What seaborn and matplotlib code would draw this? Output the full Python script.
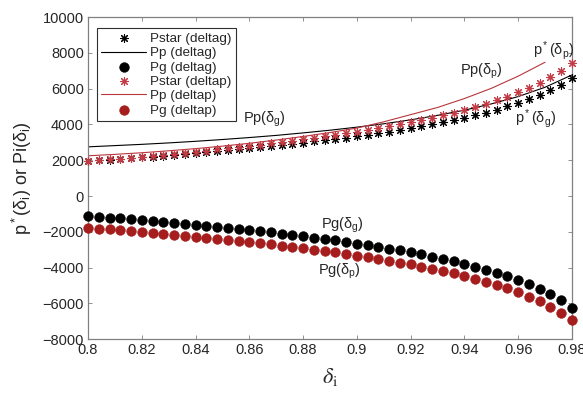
import matplotlib
matplotlib.use("Agg")
import matplotlib.pyplot as plt
import seaborn as sns
import numpy as np
import pandas as pd

# ---------------- data ----------------
delta = [round(0.8 + 0.004 * k, 3) for k in range(46)]

pstar_g = [1950, 1991, 2033, 2075, 2118, 2163, 2208, 2255, 2302, 2351,
           2401, 2452, 2504, 2558, 2613, 2670, 2729, 2789, 2851, 2916,
           2982, 3050, 3121, 3194, 3271, 3350, 3432, 3518, 3608, 3702,
           3800, 3904, 4013, 4129, 4251, 4381, 4521, 4670, 4832, 5008,
           5200, 5413, 5651, 5921, 6232, 6600]

pstar_p = [1950, 1998, 2048, 2098, 2149, 2201, 2255, 2310, 2366, 2424,
           2483, 2543, 2605, 2669, 2734, 2801, 2870, 2942, 3015, 3091,
           3169, 3250, 3334, 3420, 3510, 3604, 3701, 3803, 3909, 4020,
           4136, 4259, 4388, 4524, 4669, 4823, 4987, 5164, 5355, 5563,
           5790, 6041, 6323, 6641, 7009, 7444]

pg_g = [-1110, -1155, -1201, -1248, -1296, -1345, -1395, -1446, -1499, -1552,
        -1607, -1664, -1722, -1781, -1842, -1905, -1969, -2036, -2104, -2175,
        -2248, -2324, -2402, -2483, -2567, -2654, -2745, -2840, -2939, -3043,
        -3152, -3266, -3386, -3514, -3649, -3793, -3946, -4111, -4290, -4484,
        -4696, -4931, -5193, -5491, -5834, -6240]

pg_p = [-1770, -1815, -1862, -1909, -1957, -2007, -2057, -2109, -2161, -2215,
        -2271, -2328, -2386, -2446, -2507, -2570, -2636, -2703, -2771, -2843,
        -2916, -2993, -3071, -3153, -3238, -3326, -3417, -3513, -3612, -3717,
        -3826, -3941, -4063, -4191, -4327, -4472, -4627, -4793, -4973, -5168,
        -5382, -5618, -5882, -6182, -6528, -6937]

delta_line_g = [0.80, 0.81, 0.82, 0.83, 0.84, 0.85, 0.86, 0.87, 0.88, 0.89,
                0.90, 0.91, 0.92, 0.93, 0.94, 0.95, 0.96, 0.97, 0.98]
pp_g = [2750, 2820, 2890, 2970, 3060, 3160, 3270, 3390, 3530, 3680,
        3850, 4040, 4260, 4510, 4800, 5150, 5560, 6080, 6770]

delta_line_p = [0.80, 0.81, 0.82, 0.83, 0.84, 0.85, 0.86, 0.87, 0.88, 0.89,
                0.90, 0.91, 0.92, 0.93, 0.94, 0.95, 0.96, 0.97]
pp_p = [2250, 2330, 2420, 2530, 2650, 2790, 2950, 3130, 3330, 3550,
        3800, 4150, 4550, 4950, 5450, 6020, 6700, 7480]

x_ticks = [0.8, 0.82, 0.84, 0.86, 0.88, 0.9, 0.92, 0.94, 0.96, 0.98]
x_ticklabels = ["0.8", "0.82", "0.84", "0.86", "0.88", "0.9", "0.92", "0.94", "0.96", "0.98"]
y_ticks = [-8000, -6000, -4000, -2000, 0, 2000, 4000, 6000, 8000, 10000]

# ---------------- style ----------------
sns.set_theme(style="white")
plt.rcParams['font.family'] = ['Liberation Sans', 'DejaVu Sans']
plt.rcParams['mathtext.fontset'] = 'custom'
plt.rcParams['mathtext.rm'] = 'Liberation Sans'
plt.rcParams['mathtext.it'] = 'Liberation Sans'

BLACK = "#000000"
RED_STAR = "#c23b45"
RED_LINE = "#b8363c"
RED_DOT = "#a51d1d"

fig = plt.figure(figsize=(5.83, 3.99), dpi=100)
ax = fig.add_axes([0.151, 0.150, 0.830, 0.807])

df_g = pd.DataFrame({"d": delta, "ps": pstar_g, "pg": pg_g})
df_p = pd.DataFrame({"d": delta, "ps": pstar_p, "pg": pg_p})
dl_g = pd.DataFrame({"d": delta_line_g, "pp": pp_g})
dl_p = pd.DataFrame({"d": delta_line_p, "pp": pp_p})

ast = (8, 2, 0)

sns.scatterplot(data=df_g, x="d", y="ps", marker=ast, s=32, color=BLACK,
                linewidth=0.8, ax=ax, label="Pstar (deltag)", zorder=3, clip_on=False)
sns.lineplot(data=dl_g, x="d", y="pp", color=BLACK, linewidth=0.8, ax=ax,
             label="Pp (deltag)", zorder=2)
sns.scatterplot(data=df_g, x="d", y="pg", marker="o", s=50, color=BLACK,
                edgecolor=BLACK, linewidth=0.3, ax=ax, label="Pg (deltag)", zorder=3,
                clip_on=False)
sns.scatterplot(data=df_p, x="d", y="ps", marker=ast, s=32, color=RED_STAR,
                linewidth=0.8, ax=ax, label="Pstar (deltap)", zorder=3, clip_on=False)
sns.lineplot(data=dl_p, x="d", y="pp", color=RED_LINE, linewidth=0.8, ax=ax,
             label="Pp (deltap)", zorder=2)
sns.scatterplot(data=df_p, x="d", y="pg", marker="o", s=50, color=RED_DOT,
                edgecolor=RED_DOT, linewidth=0.3, ax=ax, label="Pg (deltap)", zorder=3,
                clip_on=False)

ax.set_xlim(0.8, 0.98)
ax.set_ylim(-8000, 10000)
ax.set_xticks(x_ticks)
ax.set_xticklabels(x_ticklabels)
ax.set_yticks(y_ticks)
ax.tick_params(axis='both', direction='in', length=3, width=0.6, colors="#808080",
               labelcolor="#262626", labelsize=10.5, top=True, right=True,
               bottom=True, left=True, pad=3)
for sp in ax.spines.values():
    sp.set_visible(True)
    sp.set_color("#808080")
    sp.set_linewidth(0.9)

ax.set_xlabel(r"$\delta_\mathrm{i}$", fontsize=16, math_fontfamily='stix', labelpad=6)
ax.set_ylabel(r"p$^*$($\delta_i$) or Pi($\delta_i$)", fontsize=13, labelpad=6)

leg = ax.legend(loc="upper left", bbox_to_anchor=(0.018, 0.967), fontsize=9.7,
                frameon=True, fancybox=False, edgecolor="#303030", framealpha=1,
                handlelength=3.3, handletextpad=0.3, borderpad=0.35,
                labelspacing=0.14, borderaxespad=0.0)
leg.get_frame().set_linewidth(0.8)

ann_kw = dict(fontsize=10.5, color="#262626")
ax.text(0.8575, 4100, r"Pp($\delta_g$)", **ann_kw)
ax.text(0.9385, 6800, r"Pp($\delta_p$)", **ann_kw)
ax.text(0.9655, 7900, r"p$^*$($\delta_p$)", **ann_kw)
ax.text(0.9590, 4100, r"p$^*$($\delta_g$)", **ann_kw)
ax.text(0.8865, -1800, r"Pg($\delta_g$)", **ann_kw)
ax.text(0.8855, -4400, r"Pg($\delta_p$)", **ann_kw)

fig.savefig("out.png", dpi=100)
